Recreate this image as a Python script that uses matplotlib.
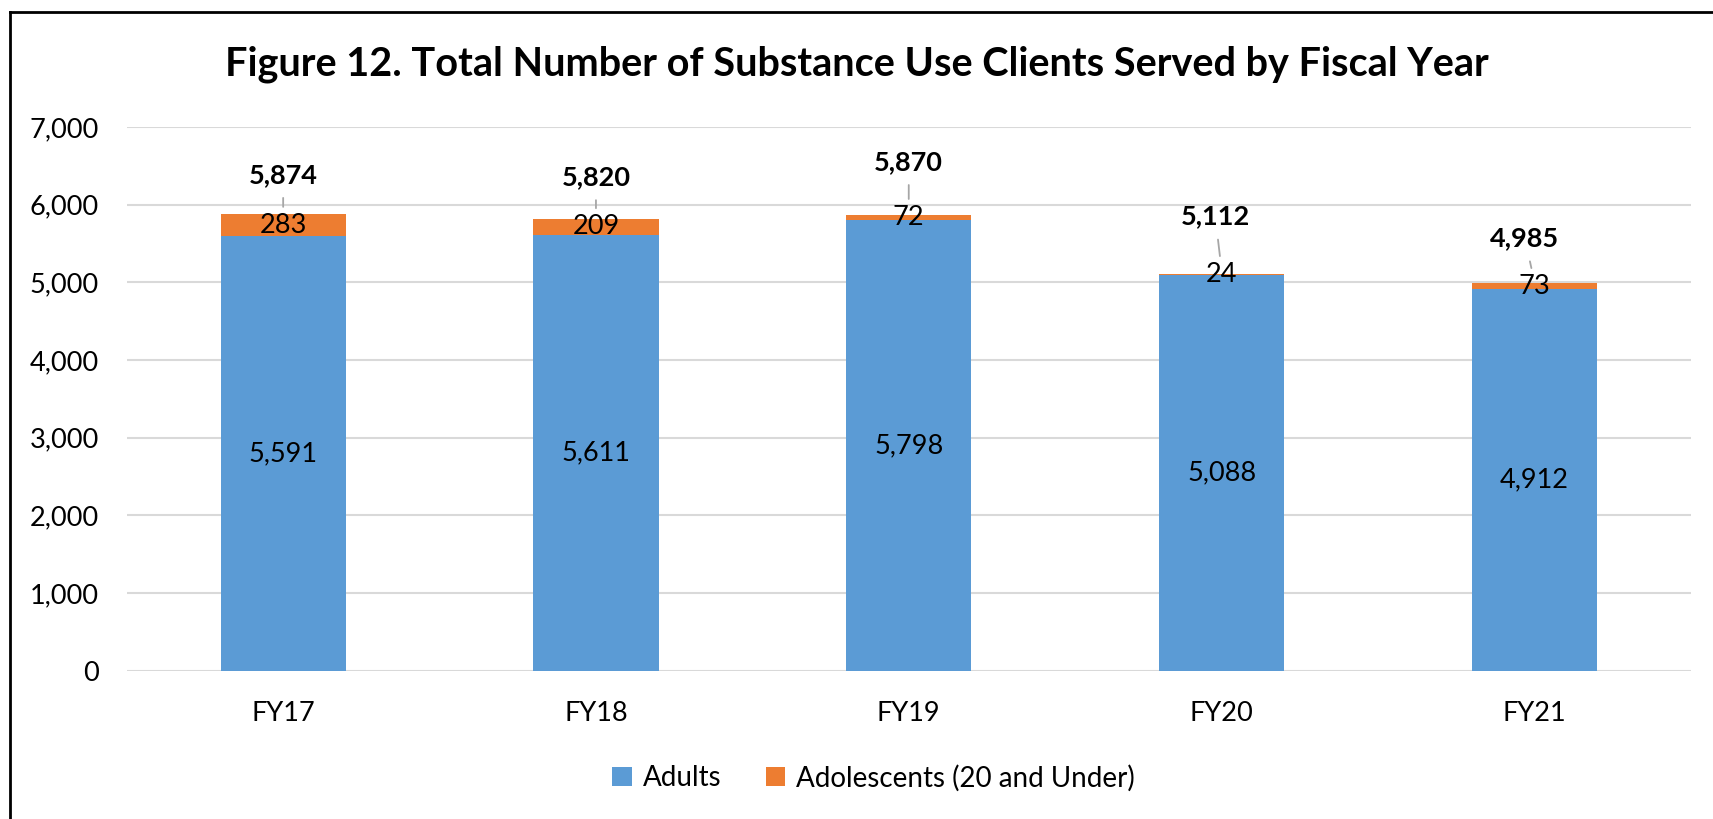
import matplotlib.pyplot as plt
from matplotlib.lines import Line2D
import numpy as np

plt.rcParams['font.family'] = ['Lato', 'DejaVu Sans']

years = ['FY17', 'FY18', 'FY19', 'FY20', 'FY21']
adults = [5591, 5611, 5798, 5088, 4912]
adolescents = [283, 209, 72, 24, 73]
totals = [5874, 5820, 5870, 5112, 4985]

# where the bold total labels sit (offset above bar top, x shift) - layout only
lab_dy = [510, 535, 680, 735, 580]
lab_dx = [0.0, 0.0, 0.0, -0.02, -0.03]

blue = '#5B9BD5'
orange = '#ED7D31'

fig = plt.figure(figsize=(17.13, 8.19), dpi=100)
ax = fig.add_axes([0.074, 0.181, 0.913, 0.664])

x = np.arange(len(years))
ax.bar(x, adults, width=0.4, color=blue, label='Adults', zorder=3)
ax.bar(x, adolescents, width=0.4, bottom=adults, color=orange,
       label='Adolescents (20 and Under)', zorder=3)

for i in range(len(years)):
    ax.text(x[i], adults[i] / 2, f'{adults[i]:,}', ha='center', va='center',
            fontsize=19.5, zorder=5)
    mid = adults[i] + adolescents[i] / 2
    ax.text(x[i], mid, f'{adolescents[i]:,}', ha='center', va='center',
            fontsize=19.5, zorder=5)
    ly = totals[i] + lab_dy[i]
    lx = x[i] + lab_dx[i]
    ax.annotate(f'{totals[i]:,}', xy=(x[i], mid + 60), xytext=(lx, ly),
                ha='center', va='center', fontsize=19.5, fontweight='bold',
                arrowprops=dict(arrowstyle='-', color='#a6a6a6', lw=1.3,
                                shrinkA=6, shrinkB=10), zorder=5)

ax.set_xlim(-0.5, len(years) - 0.5)
ax.set_ylim(0, 7000)
ax.set_yticks(np.arange(0, 7001, 1000))
ax.set_yticklabels([f'{v:,}' for v in range(0, 7001, 1000)])
ax.set_xticks(x)
ax.set_xticklabels(years)
ax.tick_params(axis='both', length=0, labelsize=19.5)
ax.tick_params(axis='y', pad=20)
ax.tick_params(axis='x', pad=22)
ax.grid(axis='y', color='#d9d9d9', lw=1.5, zorder=0)
for s in ax.spines.values():
    s.set_visible(False)

fig.suptitle('Figure 12. Total Number of Substance Use Clients Served by Fiscal Year',
             x=0.5, y=0.921, fontsize=28.5, fontweight='bold', va='center')

fig.legend(loc='center', bbox_to_anchor=(0.51, 0.05), ncol=2, frameon=False,
           fontsize=20, handlelength=0.7, handleheight=0.7, handletextpad=0.4,
           columnspacing=1.6)

# outer frame, only left and top edges show in the crop
fx = 10 / 1713
fy = 1 - 12 / 819
fig.add_artist(Line2D([fx, fx], [0, fy], transform=fig.transFigure,
                      color='black', lw=2))
fig.add_artist(Line2D([fx, 1], [fy, fy], transform=fig.transFigure,
                      color='black', lw=2))

fig.savefig('out.png', dpi=100)
